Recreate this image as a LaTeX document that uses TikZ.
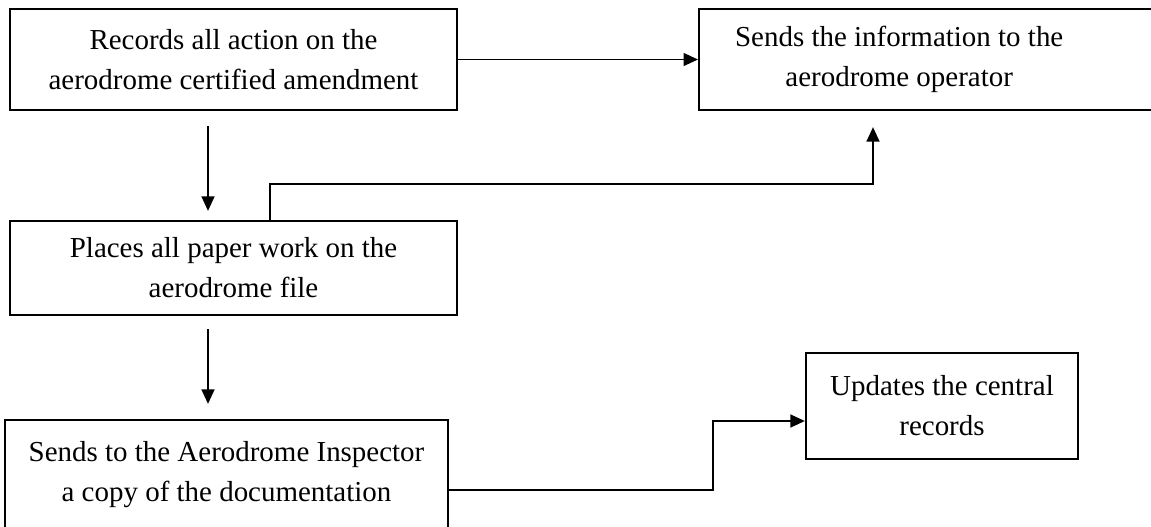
\documentclass[tikz,border=0pt]{standalone}
\usepackage{fontspec}
\setmainfont{Liberation Serif}
\usetikzlibrary{arrows.meta}

\begin{document}
\begin{tikzpicture}[
    >={Triangle[length=3.6mm,width=3.2mm]},
    box/.style={
        draw,
        line width=1.6pt,
        inner xsep=4mm,
        align=center,
        font=\fontsize{20.6}{28.45}\selectfont
    },
    arr/.style={->, line width=1.3pt}
]
    \useasboundingbox (0,0) rectangle (28.775,-13.15);

    \node[box, minimum width=111.75mm, minimum height=25.25mm] (records) at (5.8375,-1.4875)
        {Records all action on the\\aerodrome certified amendment};
    \node[box, anchor=west, inner xsep=9mm, minimum height=25.25mm] (info) at (17.45,-1.4875)
        {Sends the information to the\hspace*{4cm}\\aerodrome operator\hspace*{4cm}};
    \node[box, minimum width=111.75mm, minimum height=23.5mm] (places) at (5.8375,-6.7)
        {Places all paper work on the\\aerodrome file};
    \node[box, minimum width=110.75mm, minimum height=27.5mm] (inspector) at (5.6625,-11.875)
        {Sends to the Aerodrome Inspector\\a copy of the documentation};
    \node[box, minimum width=68mm, minimum height=26.5mm] (updates) at (23.55,-10.15)
        {Updates the central\\records};

    \coordinate (up) at (21.825,-4.6);
    \coordinate (jog) at (17.825,-10.525);

    \draw[arr] (records) -- (info);
    \draw[arr, shorten <=3.75mm, shorten >=2.25mm] ([xshift=-6.375mm]records.south)
        -- ([xshift=-6.375mm]places.north);
    \draw[arr, shorten >=4mm] ([xshift=9.1mm]places.north) |- (up) -- (up |- info.south);
    \draw[arr, shorten <=3.25mm, shorten >=3.75mm] ([xshift=-6.375mm]places.south)
        -- ([xshift=-6.375mm]places.south |- inspector.north);
    \draw[arr] ([yshift=-3.75mm]inspector.east) -| (jog) -- (jog -| updates.west);
\end{tikzpicture}
\end{document}
